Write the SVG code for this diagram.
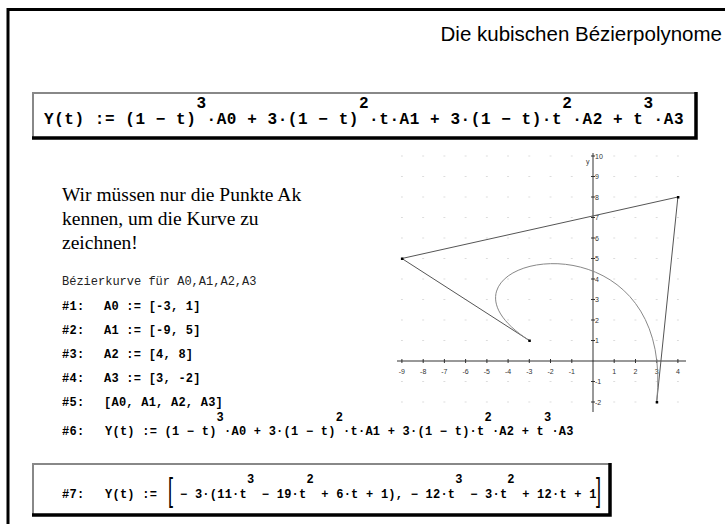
<svg xmlns="http://www.w3.org/2000/svg" width="725" height="524" viewBox="0 0 725 524">
<style>
.title{font-family:"Liberation Sans",Arial,sans-serif;font-size:20.5px;fill:#000}
.serif{font-family:"Liberation Serif","Times New Roman",serif;font-size:19.5px;fill:#000}
.mono{font-family:"Liberation Mono","Courier New",monospace;font-size:12px;fill:#222}
.f1{font-family:"Liberation Mono","Courier New",monospace;font-weight:bold;font-size:16px;letter-spacing:0.56px;fill:#000}
.f2{font-family:"Liberation Mono","Courier New",monospace;font-weight:bold;font-size:12px;letter-spacing:0.24px;fill:#000}
.tick{font-family:"Liberation Sans",Arial,sans-serif;font-size:7px;fill:#333}
.boxl{stroke:#888;stroke-width:2;fill:none}
.boxd{stroke:#000;stroke-width:3.5;fill:none}
.brk{font-family:"Liberation Sans",Arial,sans-serif;font-size:18px;fill:#000}
</style>
<defs>
<pattern id="dots" patternUnits="userSpaceOnUse" x="582.385" y="350.75" width="21.23" height="20.5">
<rect x="10.1" y="9.75" width="1" height="1" fill="#bbb"/>
</pattern>
</defs>
<rect width="725" height="524" fill="#fff"/>
<g id="frame">
<path d="M8 524 V9.5 H725" stroke="#000" stroke-width="3" fill="none"/>
</g>
<g id="title">
<text class="title" x="722" y="41" text-anchor="end">Die kubischen Bézierpolynome</text>
</g>
<g id="box1">
<rect x="32" y="92" width="664" height="46" fill="#fff"/>
<path class="boxl" d="M33 138 V93 H696"/>
<path class="boxd" d="M32 138 H696 V92"/>
<text class="f1" x="44" y="124">Y(t) := (1 − t)</text>
<text class="f1" x="206.56" y="124">·A0 + 3·(1 − t)</text>
<text class="f1" x="369.12" y="124">·t·A1 + 3·(1 − t)·t</text>
<text class="f1" x="572.32" y="124">·A2 + t</text>
<text class="f1" x="653.6" y="124">·A3</text>
<text class="f1" x="196.4" y="108">3</text>
<text class="f1" x="358.96" y="108">2</text>
<text class="f1" x="562.16" y="108">2</text>
<text class="f1" x="643.44" y="108">3</text>
</g>
<g id="intro">
<text class="serif" x="62" y="201">Wir müssen nur die Punkte Ak</text>
<text class="serif" x="62" y="225">kennen, um die Kurve zu</text>
<text class="serif" x="62" y="249">zeichnen!</text>
</g>
<g id="list">
<text class="mono" x="62" y="285">Bézierkurve für A0,A1,A2,A3</text>
<text class="f2" x="62" y="310">#1:</text><text class="f2" x="104" y="310">A0 := [-3, 1]</text>
<text class="f2" x="62" y="334">#2:</text><text class="f2" x="104" y="334">A1 := [-9, 5]</text>
<text class="f2" x="62" y="358">#3:</text><text class="f2" x="104" y="358">A2 := [4, 8]</text>
<text class="f2" x="62" y="382">#4:</text><text class="f2" x="104" y="382">A3 := [3, -2]</text>
<text class="f2" x="62" y="406">#5:</text><text class="f2" x="104" y="406">[A0, A1, A2, A3]</text>
</g>
<g id="line6">
<text class="f2" x="62" y="435">#6:</text>
<text class="f2" x="105" y="435">Y(t) := (1 − t)</text>
<text class="f2" x="224.04" y="435">·A0 + 3·(1 − t)</text>
<text class="f2" x="343.08" y="435">·t·A1 + 3·(1 − t)·t</text>
<text class="f2" x="491.88" y="435">·A2 + t</text>
<text class="f2" x="551.4" y="435">·A3</text>
<text class="f2" x="216.6" y="421">3</text>
<text class="f2" x="335.64" y="421">2</text>
<text class="f2" x="484.44" y="421">2</text>
<text class="f2" x="543.96" y="421">3</text>
</g>
<g id="graph">
<rect x="395" y="148" width="295" height="264" fill="url(#dots)"/>
<path d="M397 361 H686 M593 153 V412" stroke="#333" stroke-width="1" fill="none"/>
<path d="M401.9 359v4M423.2 359v4M444.4 359v4M465.6 359v4M486.9 359v4M508.1 359v4M529.3 359v4M550.5 359v4M571.8 359v4M614.2 359v4M635.5 359v4M656.7 359v4M677.9 359v4M591 156h4M591 176.5h4M591 197h4M591 217.5h4M591 238h4M591 258.5h4M591 279h4M591 299.5h4M591 320h4M591 340.5h4M591 381.5h4M591 402h4" stroke="#333" stroke-width="1" fill="none"/>
<g class="tick" text-anchor="middle">
<text x="401.9" y="374">-9</text><text x="423.2" y="374">-8</text><text x="444.4" y="374">-7</text><text x="465.6" y="374">-6</text><text x="486.9" y="374">-5</text><text x="508.1" y="374">-4</text><text x="529.3" y="374">-3</text><text x="550.5" y="374">-2</text><text x="571.8" y="374">-1</text><text x="614.2" y="374">1</text><text x="635.5" y="374">2</text><text x="656.7" y="374">3</text><text x="677.9" y="374">4</text>
</g>
<g class="tick">
<text x="595" y="159">10</text><text x="595" y="179">9</text><text x="595" y="200">8</text><text x="595" y="220">7</text><text x="595" y="241">6</text><text x="595" y="261">5</text><text x="595" y="282">4</text><text x="595" y="302">3</text><text x="595" y="323">2</text><text x="595" y="343">1</text><text x="595" y="384">-1</text><text x="595" y="405">-2</text>
<text x="586" y="164">y</text>
</g>
<path d="M529.3 340.5 L401.9 258.5 L677.9 197 L656.7 402" stroke="#555" stroke-width="1" fill="none"/>
<path d="M529.3 340.5 C401.9 258.5 677.9 197 656.7 402" stroke="#888" stroke-width="1" fill="none"/>
<g fill="#000">
<rect x="528.3" y="339.5" width="2.5" height="2.5"/><rect x="400.9" y="257.5" width="2.5" height="2.5"/><rect x="676.9" y="196" width="2.5" height="2.5"/><rect x="655.7" y="401" width="2.5" height="2.5"/>
</g>
</g>
<g id="box7">
<rect x="32" y="463" width="578" height="52" fill="#fff"/>
<path class="boxl" d="M33 515 V464 H610"/>
<path class="boxd" d="M32 515 H610 V463"/>
<text class="f2" x="62" y="498">#7:</text>
<text class="f2" x="105" y="498">Y(t) :=</text>
<text class="f2" x="180" y="498">− 3·(11·t</text>
<text class="f2" x="261.84" y="498">− 19·t</text>
<text class="f2" x="321.36" y="498">+ 6·t + 1), − 12·t</text>
<text class="f2" x="470.16" y="498">− 3·t</text>
<text class="f2" x="522.24" y="498">+ 12·t + 1</text>
<text class="f2" x="246.96" y="483">3</text>
<text class="f2" x="306.48" y="483">2</text>
<text class="f2" x="455.28" y="483">3</text>
<text class="f2" x="507.36" y="483">2</text>
<text class="brk" transform="translate(168 501) scale(1 1.85)">[</text>
<text class="brk" transform="translate(596 501) scale(1 1.85)">]</text>
</g>
</svg>
